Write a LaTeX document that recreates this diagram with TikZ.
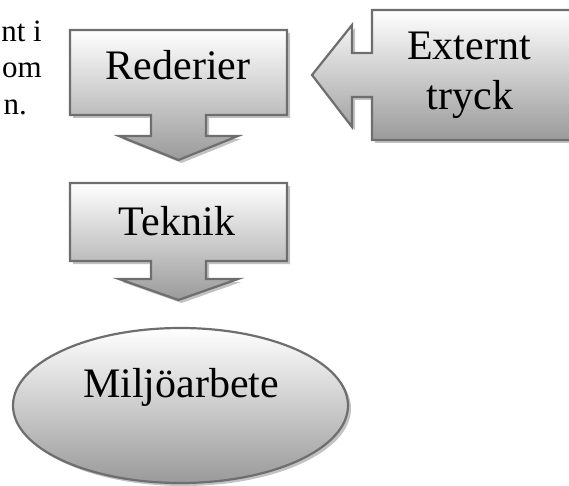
\documentclass[tikz,border=0pt]{standalone}
\usepackage{fontspec}
\setmainfont{Liberation Serif}
\usepackage{tikz}
\usetikzlibrary{shadows,shapes.geometric}
\definecolor{edge}{HTML}{6E6E6E}
\definecolor{deep}{HTML}{9A9A9A}
\definecolor{drop}{HTML}{C2C2C2}

\begin{document}
\begin{tikzpicture}[x=1pt,y=-1pt,
    flow/.style={draw=edge,line width=2.2pt,line join=miter,top color=white,
                 bottom color=deep,
                 drop shadow={shadow xshift=3pt,shadow yshift=-3pt,fill=drop,opacity=1}},
    big/.style={font=\fontsize{42}{50}\selectfont,inner sep=0pt,anchor=base},
    note/.style={font=\fontsize{31}{37}\selectfont,inner sep=0pt,anchor=base east}]
    \useasboundingbox (0,0) rectangle (569,486);
    % paragraph cut off at the left
    \node[note] (line1) at (42,42) {nt\hspace{0.25em}i};
    \node[note] (line2) at (42,78) {om};
    \node[note] (line3) at (27,115) {n.};
    % down callouts
    \path[flow] (70,30) -- (287,30) -- (287,115) -- (206,115) -- (206,136)
        -- (238,136) -- (178.5,160) -- (119,136) -- (151,136) -- (151,115)
        -- (70,115) -- cycle;
    \node[big] (rederier) at (178,80) {Rederier};
    \path[flow] (70,183) -- (287,183) -- (287,261) -- (206,261) -- (206,279)
        -- (238,279) -- (178.5,300) -- (119,279) -- (151,279) -- (151,261)
        -- (70,261) -- cycle;
    \node[big] (teknik) at (177,235) {Teknik};
    % left callout
    \path[flow] (572,10) -- (372,10) -- (372,53) -- (352,53) -- (352,25)
        -- (312,75) -- (352,127) -- (352,97) -- (372,97) -- (372,140)
        -- (572,140) -- cycle;
    \node[big] (externt) at (469,60) {Externt};
    \node[big] (tryck) at (470,110) {tryck};
    % result
    \node[flow,ellipse,minimum width=335pt,minimum height=155pt] (oval) at (180.5,405.5) {};
    \node[big] (miljo) at (181,397) {Miljöarbete};
\end{tikzpicture}
\end{document}
